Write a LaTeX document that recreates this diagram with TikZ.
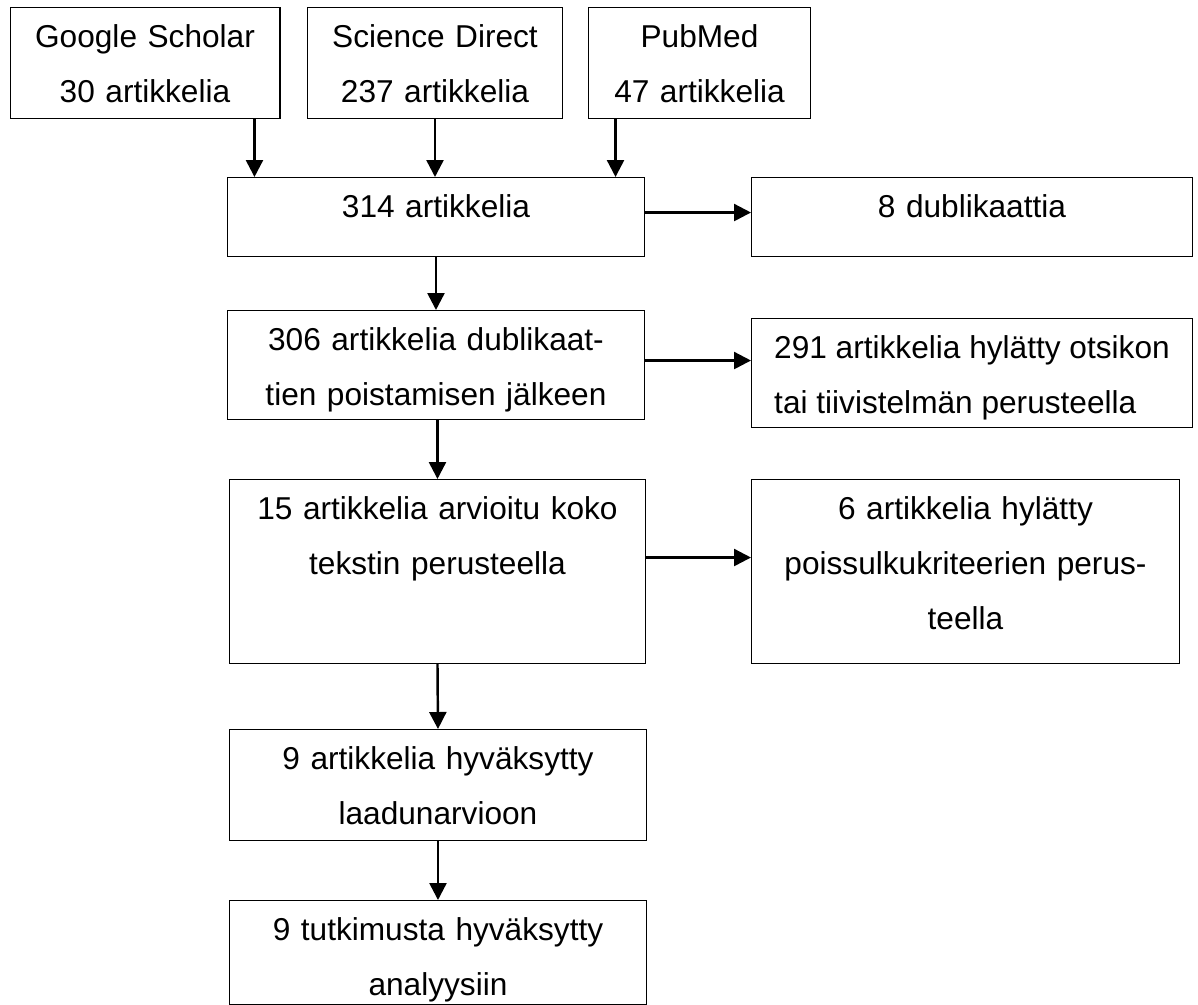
\documentclass[tikz,border=0pt]{standalone}
\usepackage{fontspec}
\setmainfont{Liberation Sans}
\usetikzlibrary{arrows.meta}

\begin{document}
\begin{tikzpicture}[x=0.02cm,y=-0.02cm,
    box/.style={rectangle,draw,line width=0.6pt,anchor=north west,inner xsep=0.2cm,inner ysep=0pt,
        align=center,text height=0.8cm,font=\fontsize{18pt}{31.3pt}\selectfont},
    arr/.style={-{Triangle[length=0.34cm,width=0.34cm]},line width=1.4pt}]
\useasboundingbox (0,0) rectangle (1198,1005);

% Databases
\node[box,text width=5.0cm,text depth=1.42cm] (gs) at (9.5,7) {Google Scholar\\30 artikkelia};
\node[box,text width=4.7cm,text depth=1.42cm] (sd) at (307,7) {Science Direct\\237 artikkelia};
\node[box,text width=4.04cm,text depth=1.42cm] (pm) at (588,7) {PubMed\\47 artikkelia};

% Main column
\node[box,text width=7.94cm,text depth=0.78cm] (n314) at (227,177) {314 artikkelia};
\node[box,text width=7.94cm,text depth=1.38cm] (n306) at (227,310) {306 artikkelia dublikaat-\\tien poistamisen jälkeen};
\node[box,text width=7.92cm,text depth=2.88cm] (n15) at (229,479) {15 artikkelia arvioitu koko\\tekstin perusteella};
\node[box,text width=7.94cm,text depth=1.42cm] (n9a) at (229,729) {9 artikkelia hyväksytty\\laadunarvioon};
\node[box,text width=7.94cm,text depth=1.28cm] (n9t) at (229,900) {9 tutkimusta hyväksytty\\analyysiin};

% Excluded
\node[box,text width=8.42cm,text depth=0.78cm] (dub) at (751,177) {8 dublikaattia};
\node[box,minimum width=8.82cm,inner xsep=0pt,align=left,text height=1.9cm,text depth=0.28cm] (n291) at (751,318) {291 artikkelia hylätty otsikon\\tai tiivistelmän perusteella};
\node[box,text width=8.16cm,text depth=2.88cm] (n6) at (751,479) {6 artikkelia hylätty\\poissulkukriteerien perus-\\teella};

% Arrows
\draw[arr] ([xshift=2.19cm]gs.south) -- ([xshift=2.19cm]gs.south |- n314.north);
\draw[arr] (sd.south) -- (sd.south |- n314.north);
\draw[arr] ([xshift=-1.68cm]pm.south) -- ([xshift=-1.68cm]pm.south |- n314.north);
\draw[arr] (n314.south) -- (n306.north);
\draw[arr] (n15.north |- n306.south) -- (n15.north);
\draw[arr] (n15.south) -- (n9a.north);
\draw[arr] (n9a.south) -- (n9t.north);
\draw[arr] ([yshift=0.09cm]n314.east) -- ([yshift=0.09cm]n314.east -| dub.west);
\draw[arr] ([yshift=0.09cm]n306.east) -- ([yshift=0.09cm]n306.east -| n291.west);
\draw[arr] ([yshift=0.28cm]n15.east) -- ([yshift=0.28cm]n15.east -| n6.west);

\end{tikzpicture}
\end{document}
